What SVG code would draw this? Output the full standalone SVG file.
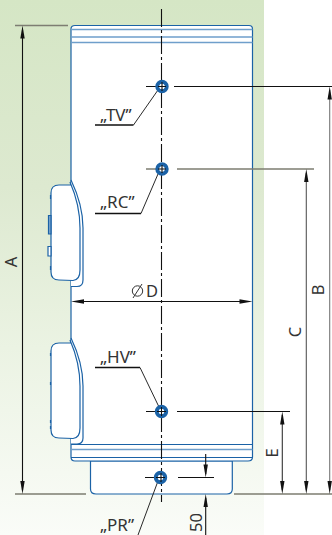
<svg xmlns="http://www.w3.org/2000/svg" width="332" height="535" viewBox="0 0 332 535">
<style>
.b{fill:none;stroke:#1b62a6;stroke-width:1.2}
.w{fill:#fff;stroke:#1b62a6;stroke-width:1.2}
.lb{fill:none;stroke:#6f9fcb;stroke-width:1.3}
.k{fill:none;stroke:#111;stroke-width:1.1}
.g{fill:none;stroke:#7d7d72;stroke-width:1.4}
.u{fill:none;stroke:#111;stroke-width:1.6}
.t{font-family:"Noto Sans","Open Sans",sans-serif;font-size:17px;fill:#333}
.d{font-family:"Noto Sans","Open Sans",sans-serif;font-size:16.500px;fill:#333}
</style>
<defs>
<linearGradient id="bg" x1="0" y1="0" x2="0" y2="1"><stop offset="0" stop-color="#d5e6c5"/><stop offset=".35" stop-color="#dde9d0"/><stop offset=".65" stop-color="#ebf3e3"/><stop offset="1" stop-color="#fafcf8"/></linearGradient>
<path id="ah" d="M0 0L2.200 13L-2.200 13Z" fill="#111"/>
<g id="hole"><circle r="4.700" fill="#fff" stroke="#1b62a6" stroke-width="4"/><circle r="2.500" fill="#fff"/></g>
</defs>
<rect id="background" x="0" y="0" width="264" height="535" fill="url(#bg)"/>
<g id="tank">
<path class="w" d="M90.500 461V489Q90.500 494 96 494H227Q232.300 494 232.300 489V461Z"/>
<path class="w" d="M71 29Q71 25.500 75 25.500H249Q252.500 25.500 252.500 29V457Q252.500 461 248 461H75Q71 461 71 457Z"/>
<path class="lb" d="M71 29.500H252.500M71 37H252.500M71 42.500H252.500"/>
<path class="b" d="M71 444.500H252.500M71 457.500H252.500"/>
<path class="lb" d="M71 449.500H252.500"/>
</g>
<g id="control-upper">
<path class="w" d="M71 180Q83 205 83 228V280Q83 286.500 77 286.500H71"/>
<path class="w" d="M71 185H59Q51 185 51 193V272Q51 280 59 280L73 280.500Q80 280 80 270V228Q80 205 70 182Z"/>
<path class="b" d="M48.500 215.500H51V234H48.500Z" style="fill:#7fa8cf"/>
<path class="w" d="M48 246.500H51V256H48Z"/>
<path class="b" d="M50.500 195V199M50.500 266V270"/>
</g>
<g id="control-lower">
<path class="w" d="M71 338Q83 363 83 386V438Q83 444 77 444H71"/>
<path class="w" d="M71 343H59Q51 343 51 351V430Q51 438 59 438L73 438.500Q80 438 80 428V386Q80 363 70 340Z"/>
<path class="b" d="M50.500 353V356M50.500 382V385M50.500 420V423M50.500 426V429"/>
</g>
<g id="connectors">
<path class="k" stroke-dasharray="18 3 3 3" d="M161.500 9V502"/>
<path class="g" d="M15 25.500H68M15 494H86M234 494H332"/>
<path class="k" d="M22.500 30V490"/>
<use href="#ah" x="22.500" y="25.500"/><use href="#ah" transform="translate(22.500 494) scale(1 -1)"/>
<path class="k" d="M146 86.500H158M174 86.500H332"/>
<path class="k" style="stroke:#777" d="M329.700 90V490"/>
<use href="#ah" x="329.700" y="86.500"/><use href="#ah" transform="translate(329.700 494) scale(1 -1)"/>
<path class="g" d="M146 169H158M177 169H314"/>
<path class="k" style="stroke:#555" d="M306.300 173V490"/>
<use href="#ah" x="306.300" y="169"/><use href="#ah" transform="translate(306.300 494) scale(1 -1)"/>
<path class="k" d="M146 411.500H158M177 411.500H290"/>
<path class="k" style="stroke:#333" d="M282.300 415V490"/>
<use href="#ah" x="282.300" y="411.500"/><use href="#ah" transform="translate(282.300 494) scale(1 -1)"/>
<path class="k" d="M75 301.500H248"/>
<use href="#ah" transform="translate(71 301.500) rotate(-90)"/><use href="#ah" transform="translate(252.500 301.500) rotate(90)"/>
<path class="k" d="M145 477.500H156M178 477.500H214"/>
<path class="k" d="M205.700 454V474M205.700 498V535"/>
<use href="#ah" transform="translate(205.700 477.500) scale(1 -1)"/><use href="#ah" x="205.700" y="494"/>
<path class="u" d="M95 125H133.500M95 213.500H141M95 367.500H140"/>
<path class="k" d="M133.500 125L158 90M141 213.500L158 174M140 367.500L159 407M158 481L138 535" style="stroke-width:.9"/>
</g>
<g id="port-tv"><use href="#hole" x="162" y="86.500"/><path class="k" d="M158 86.500H166M162 82V91"/></g>
<g id="port-rc"><use href="#hole" x="162" y="169"/><path class="k" d="M158 169H166M162 165V173"/></g>
<g id="port-hv"><use href="#hole" x="161.500" y="411.500"/><path class="k" d="M157 411.500H166M161.500 407V416"/></g>
<g id="port-pr"><use href="#hole" x="160.500" y="477.500"/><path class="k" d="M156 477.500H165M161 473V482"/></g>
<g id="labels">
<text class="t" x="100" y="121">„TV”</text>
<text class="t" x="100" y="208">„RC”</text>
<text class="t" x="100" y="363">„HV”</text>
<text class="t" x="100" y="531">„PR”</text>
<text class="d" transform="translate(17.300 262) rotate(-90)" text-anchor="middle">A</text>
<text class="d" transform="translate(324 290) rotate(-90)" text-anchor="middle">B</text>
<text class="d" transform="translate(301 332) rotate(-90)" text-anchor="middle">C</text>
<text class="d" transform="translate(277.500 453) rotate(-90)" text-anchor="middle">E</text>
<text class="d" transform="translate(201.500 522.500) rotate(-90)" text-anchor="middle">50</text>
<text class="d" x="146" y="296.500">D</text>
<circle cx="137.500" cy="291" r="5.200" fill="none" stroke="#333" stroke-width="1"/><path d="M133 298L142 284" fill="none" stroke="#333" stroke-width="1"/>
</g>
</svg>
